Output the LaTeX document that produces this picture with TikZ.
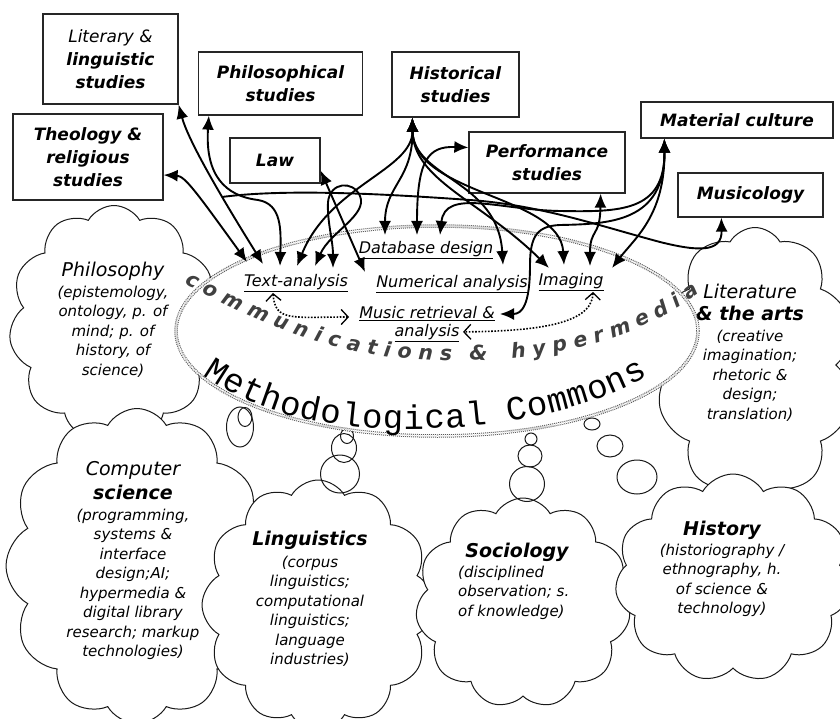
\documentclass[tikz,border=0pt]{standalone}
\usepackage{fontspec}
\setmainfont{DejaVu Sans}[ItalicFont={DejaVu Sans Oblique},BoldFont={DejaVu Sans Bold},BoldItalicFont={DejaVu Sans Bold Oblique}]
\newfontfamily\commonsmono{Liberation Mono}
\usetikzlibrary{arrows.meta,shapes.geometric,shapes.symbols,decorations.text}

\newcommand\boxfont{\fontsize{17}{23}\selectfont\bfseries\itshape}
\newcommand\headfont{\fontsize{19}{22}\selectfont}
\newcommand\bodyfont{\fontsize{15}{19.5}\selectfont\itshape}
\newcommand\lblfont{\fontsize{16}{18}\selectfont\itshape}
\newcommand\commarcfont{\fontsize{20.5}{21}\selectfont\bfseries\itshape\color{black!75}}
\newcommand\methfont{\commonsmono\fontsize{34}{34}\selectfont}

\tikzset{
  studybox/.style={draw=black!85, line width=1.3pt, fill=white, align=center, inner sep=0pt, font=\boxfont},
  puffcloud/.style={cloud, cloud ignores aspect, cloud puff arc=120, draw=black!90, line width=1pt, fill=white, inner sep=0pt},
  bubble/.style={ellipse, draw=black!90, line width=1pt, inner sep=0pt},
  cloudtext/.style={align=center, inner sep=0pt, font=\bodyfont, anchor=north},
  method/.style={inner sep=1pt, font=\lblfont},
  link/.style={line width=1.9pt, {Latex[length=14pt,width=12pt]}-{Latex[length=14pt,width=12pt]}},
  halflink/.style={line width=1.9pt, {Latex[length=14pt,width=12pt]}-},
  dotlink/.style={line width=1.6pt, dash pattern=on 1.6pt off 1.6pt,
    {Straight Barb[length=7pt,width=15pt,line width=1.3pt]}-{Straight Barb[length=7pt,width=15pt,line width=1.3pt]}},
  commonsring/.style={ellipse, minimum width=522pt, minimum height=210pt, fill=white,
    draw=black!65, line width=1pt, double=white, double distance=1.5pt, dash pattern=on 1pt off 1pt}
}

\begin{document}
\begin{tikzpicture}[x=1pt,y=-1pt]
\useasboundingbox (0,0) rectangle (840,719);
\clip (0,0) rectangle (840,719);

% disciplines as thought clouds
\node[puffcloud, cloud puffs=11, minimum width=210pt, minimum height=235pt] (philC) at (114,323) {};
\node[puffcloud, cloud puffs=12, minimum width=262pt, minimum height=315pt] (csC) at (137,566) {};
\node[puffcloud, cloud puffs=12, minimum width=232pt, minimum height=250pt] (lingC) at (318,605) {};
\node[puffcloud, cloud puffs=11, minimum width=215pt, minimum height=210pt] (socC) at (523,603) {};
\node[puffcloud, cloud puffs=10, minimum width=200pt, minimum height=275pt] (litC) at (755,365) {};
\node[puffcloud, cloud puffs=11, minimum width=236pt, minimum height=208pt] (histC) at (733,578) {};

% thought bubbles rising to the commons
\node[bubble, minimum width=27pt, minimum height=40pt] (pb1) at (240,427) {};
\node[bubble, minimum width=14pt, minimum height=19pt] (pb2) at (245,417) {};
\node[bubble, minimum width=39pt, minimum height=38pt] (lb3) at (340,474) {};
\node[bubble, minimum width=25pt, minimum height=29pt] (lb2) at (344,448) {};
\node[bubble, minimum width=13pt, minimum height=15pt] (lb1) at (347,436) {};
\node[bubble, minimum width=35pt, minimum height=35pt] (sb3) at (527,484) {};
\node[bubble, minimum width=24pt, minimum height=22pt] (sb2) at (530,456) {};
\node[bubble, minimum width=12pt, minimum height=12pt] (sb1) at (531,439) {};
\node[bubble, minimum width=40pt, minimum height=34pt] (hb3) at (637,477) {};
\node[bubble, minimum width=26pt, minimum height=22pt] (hb2) at (610,446) {};
\node[bubble, minimum width=16pt, minimum height=12pt] (hb1) at (592,424) {};

% cloud texts
\node[cloudtext] (philT) at (113,261.6) {{\headfont Philosophy}\\[1.5pt](epistemology,\\ontology, p. of\\mind; p. of\\history, of\\science)};
\node[cloudtext] (csT) at (133,461) {{\headfont Computer}\\[4.5pt]{\headfont\bfseries science}\\[1.5pt](programming,\\systems \&\\interface\\design;AI;\\hypermedia \&\\digital library\\research; markup\\technologies)};
\node[cloudtext] (lingT) at (310,530.6) {{\headfont\bfseries Linguistics}\\[2.5pt](corpus\\linguistics;\\computational\\linguistics;\\language\\industries)};
\node[inner sep=0pt, font=\bodyfont\headfont\bfseries, anchor=base] (socH) at (517,557) {Sociology};
\node[cloudtext, align=left, anchor=north west] (socT) at (458,565.6) {(disciplined\\observation; s.\\of knowledge)};
\node[cloudtext] (histT) at (722,520.6) {{\headfont\bfseries History}\\[0.5pt](historiography /\\ethnography, h.\\of science \&\\technology)};
\node[cloudtext] (litT) at (750,283.6) {{\headfont Literature}\\[2.5pt]{\headfont\bfseries \& the arts}\\[1.5pt](creative\\imagination;\\rhetoric \&\\design;\\translation)};

% the methodological commons
\node[commonsring] (commons) at (437,331) {};
\path[decorate, decoration={text along path, text align=right,
  text={|\commarcfont|c o m m u n i c a t i o n s}}]
  (176,279) .. controls (280,337) and (360,361) .. (452,361);
\node[font=\commarcfont, inner sep=0pt, anchor=base, rotate=-4] (amp) at (478,360) {\&};
\path[decorate, decoration={text along path, text align=right,
  text={|\commarcfont|h y p e r m e d i a}}]
  (455,361) .. controls (560,361) and (640,337) .. (700,293);
\path[decorate, decoration={text along path, text align=fit to path,
  text={|\methfont|Methodological Commons}}]
  (203,375) .. controls (265,418) and (335,429) .. (410,429)
  .. controls (505,429) and (595,408) .. (648,376);

% methods inside the commons
\node[method] (dd) at (426,250) {\underline{Database design}};
\node[method] (ta) at (296,283) {\underline{Text-analysis}};
\node[method] (na) at (452,284) {\underline{Numerical analysis}};
\node[method] (im) at (571,282) {\underline{Imaging}};
\node[method, align=center] (mr) at (427,324) {\underline{Music retrieval \&}\\\underline{analysis}};

\draw[dotlink] ([xshift=-23pt]ta.south) .. controls (275,322) and (292,317) .. ([xshift=-9pt,yshift=7pt]mr.west);
\draw[dotlink] ([xshift=22pt]im.south) .. controls (592,326) and (530,331) .. ([xshift=36pt,yshift=11pt]mr.south);

% fields of study
\node[studybox, minimum width=135pt, minimum height=90pt] (lit) at (110.5,59) {{\mdseries Literary \&}\\linguistic\\studies};
\node[studybox, minimum width=164pt, minimum height=63pt] (phil) at (280.5,83.5) {Philosophical\\studies};
\node[studybox, minimum width=150pt, minimum height=86pt] (theo) at (88,157) {Theology \&\\religious\\studies};
\node[studybox, minimum width=90pt, minimum height=45pt] (law) at (275,160.5) {Law};
\node[studybox, minimum width=127pt, minimum height=65pt] (hist) at (455.5,84.5) {Historical\\studies};
\node[studybox, minimum width=156pt, minimum height=61pt] (perf) at (547,162.5) {Performance\\studies};
\node[studybox, minimum width=192pt, minimum height=36pt] (mat) at (737,120) {Material culture};
\node[studybox, minimum width=145pt, minimum height=44pt] (mus) at (750.5,195) {Musicology};

% ports on the boxes
\coordinate (theoA) at ([yshift=-18pt]theo.east);
\coordinate (litA) at (lit.south east);
\coordinate (philA) at ([xshift=11pt]phil.south west);
\coordinate (lawA) at ([yshift=13pt]law.south east);
\coordinate (histA) at ([xshift=21pt]hist.south west);
\coordinate (perfW) at ([yshift=15pt]perf.west);
\coordinate (perfS) at ([xshift=-25pt]perf.south east);
\coordinate (matA) at ([xshift=24pt]mat.south west);
\coordinate (musA) at ([xshift=44pt]mus.south west);

% ports on the methods
\coordinate (t1) at (247,262);
\coordinate (t2) at (263,264);
\coordinate (t3) at (280,266);
\coordinate (t4) at (297,266);
\coordinate (t5) at (315,266);
\coordinate (t6) at (333,268);
\coordinate (n1) at (365,272);
\coordinate (d1) at (385,235);
\coordinate (d2) at (417,235);
\coordinate (d3) at (440,235);
\coordinate (n2) at (503,265);
\coordinate (i1) at (549,268);
\coordinate (i2) at (564,265);
\coordinate (i3) at (590,266);
\coordinate (i4) at (612,268);
\coordinate (m1) at (500,314);

% links between fields and methods
\draw[link] (theoA) .. controls (185,176) and (197,193) .. (t1);
\draw[link] (litA) .. controls (188,140) and (220,195) .. (t2) coordinate[pos=0.65] (j1);
\draw[link] (philA) .. controls (205,175) and (225,196) .. (258,200) .. controls (282,204) and (281,230) .. (t3);
\draw[link] (lawA) -- (n1);
\draw[link] (histA) .. controls (413,170) and (330,185) .. (t4);
\draw[link] (histA) .. controls (413,180) and (385,185) .. (d1);
\draw[link] (histA) .. controls (413,178) and (498,180) .. (n2);
\draw[link] (histA) .. controls (413,180) and (480,200) .. (i1);
\draw[link] (histA) .. controls (413,195) and (560,195) .. (i2);
\draw[link] (t5) .. controls (330,232) and (368,215) .. (360,196) .. controls (353,180) and (330,182) .. (328,202) .. controls (327,222) and (333,240) .. (t6);
\draw[link] (perfW) .. controls (428,146) and (417,160) .. (d2);
\draw[link] (perfS) .. controls (600,238) and (590,228) .. (i3);
\draw[link] (matA) .. controls (665,215) and (635,238) .. (i4);
\draw[link] (matA) .. controls (665,212) and (620,212) .. (560,211) .. controls (500,210) and (445,188) .. (d3);
\draw[link] (matA) .. controls (665,222) and (610,224) .. (560,225) .. controls (538,226) and (530,235) .. (530,265) .. controls (530,305) and (522,314) .. (m1);
\draw[halflink] (musA) .. controls (722,252) and (700,252) .. (660,242) .. controls (600,226) and (540,205) .. (470,200) .. controls (400,195) and (290,188) .. (j1);
\end{tikzpicture}
\end{document}
